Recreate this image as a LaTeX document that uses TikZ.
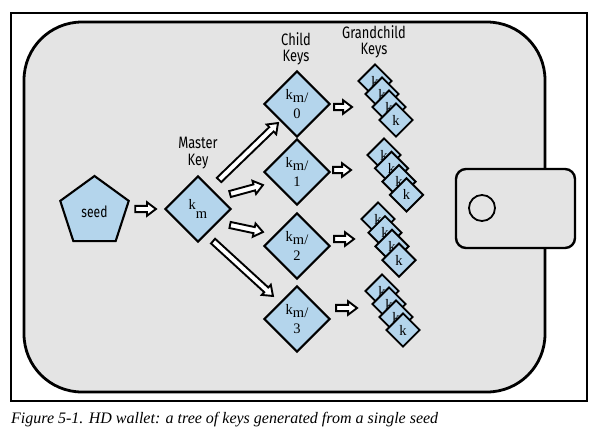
\documentclass[tikz,border=0pt]{standalone}
\usepackage{fontspec}
\setmainfont{Liberation Serif}
\newfontfamily\labelfont[FakeStretch=0.78]{Fira Sans}
\usetikzlibrary{calc,positioning,shapes.geometric}

\definecolor{keyblue}{RGB}{180,213,236}
\definecolor{walletgray}{RGB}{228,228,228}

\tikzset{
  key/.style={diamond, draw, line width=2.1pt, fill=keyblue, minimum size=66pt,
    inner sep=0pt, align=center, font=\fontsize{14.5}{19}\selectfont},
  gkey/.style={diamond, draw, line width=1.9pt, fill=keyblue, minimum size=34pt,
    inner sep=0pt, font=\fontsize{14.5}{14}\selectfont},
  seedkey/.style={regular polygon, regular polygon sides=5, draw, line width=2.1pt,
    fill=keyblue, minimum size=72pt, inner sep=0pt, font=\labelfont\fontsize{15.5}{15}\selectfont},
  title/.style={align=center, inner sep=0pt, font=\labelfont\fontsize{16.5}{16.5}\selectfont},
  fatarr/.style={draw, line width=1.9pt, fill=white, line join=miter},
}

\newcommand\fatarrow[2]{%
  \path[fatarr] let \p1=#1, \p2=#2,
    \n1={atan2(\y2-\y1,\x2-\x1)}, \n2={veclen(\x2-\x1,\y2-\y1)} in
    ($(\p1)+(\n1+90:3.1pt)$) -- ++(\n1:{(\n2-9)*1pt}) -- ++(\n1+90:3.7pt) -- (\p2)
    -- ($(\p2)+(\n1+180:9pt)+(\n1-90:6.8pt)$) -- ++(\n1+90:3.7pt)
    -- ++(\n1+180:{(\n2-9)*1pt}) -- cycle;}

\begin{document}
\begin{tikzpicture}[x=1pt,y=-1pt]
  \useasboundingbox (0,0) rectangle (601,432);
  \draw[line width=1.1pt] (11,13) rectangle (587,401);
  \draw[line width=2.8pt, fill=walletgray, rounded corners=58pt] (24,22) rectangle (545,392);
  \draw[line width=2.4pt, fill=walletgray, rounded corners=10pt] (456,169) rectangle (575,248);
  \draw[line width=1.8pt] (482,208) circle (13pt);

  \node[seedkey] (seed) at (94.5,212) {seed};
  \node[key] (master) at (198,209) {k\raisebox{-9pt}{m}};
  \node[title, above=6pt of master] (masterlbl) {Master\\Key};

  \node[key] (c0) at (297,104) {k\raisebox{-3pt}{m/}\\0};
  \node[key] (c1) at (297,172) {k\raisebox{-3pt}{m/}\\1};
  \node[key] (c2) at (297,246) {k\raisebox{-3pt}{m/}\\2};
  \node[key] (c3) at (297,319) {k\raisebox{-3pt}{m/}\\3};
  \node[title] (childlbl) at (296,49) {Child\\Keys};
  \node[title] (grandlbl) at (374,42) {Grandchild\\Keys};

  \node[gkey] (g00) at ($(c0)+(78,-23)$) {k};
  \node[gkey] (g01) at ($(g00)+(7,13)$) {k};
  \node[gkey] (g02) at ($(g01)+(7,13)$) {k};
  \node[gkey] (g03) at ($(g02)+(7,13)$) {k};

  \node[gkey] (g10) at ($(c1)+(87,-17)$) {k};
  \node[gkey] (g11) at ($(g10)+(7.5,13.3)$) {k};
  \node[gkey] (g12) at ($(g11)+(7.5,13.3)$) {k};
  \node[gkey] (g13) at ($(g12)+(7.5,13.3)$) {k};

  \node[gkey] (g20) at ($(c2)+(81,-27)$) {k};
  \node[gkey] (g21) at ($(g20)+(7,13.7)$) {k};
  \node[gkey] (g22) at ($(g21)+(7,13.7)$) {k};
  \node[gkey] (g23) at ($(g22)+(7,13.7)$) {k};

  \node[gkey] (g30) at ($(c3)+(85,-28)$) {k};
  \node[gkey] (g31) at ($(g30)+(7,13)$) {k};
  \node[gkey] (g32) at ($(g31)+(7,13)$) {k};
  \node[gkey] (g33) at ($(g32)+(7,13)$) {k};

  \fatarrow{($(seed.east)+(9,-3)$)}{($(master.west)+(-8,0)$)}
  \fatarrow{($(master)+(21,-29)$)}{($(c0.south west)+(-2,2)$)}
  \fatarrow{($(master.east)+(-2,-15)$)}{($(c1.west)+(0,13)$)}
  \fatarrow{($(master.east)+(-2,16)$)}{($(c2.west)+(0,-14)$)}
  \fatarrow{($(master.south)+(15,-2)$)}{($(c3.north west)+(-7,-6)$)}

  \fatarrow{($(c0.east)+(3,3)$)}{($(c0.east)+(21,3)$)}
  \fatarrow{($(c1.east)+(2,-2)$)}{($(c1.east)+(20,-2)$)}
  \fatarrow{($(c2.east)+(3,-7)$)}{($(c2.east)+(23,-7)$)}
  \fatarrow{($(c3.east)+(5,-11)$)}{($(c3.east)+(26,-11)$)}

  \node[anchor=base west, inner sep=0pt, font=\fontsize{16}{16}\selectfont\itshape]
    (caption) at (11,423) {Figure 5-1. HD wallet: a tree of keys generated from a single seed};
\end{tikzpicture}
\end{document}
